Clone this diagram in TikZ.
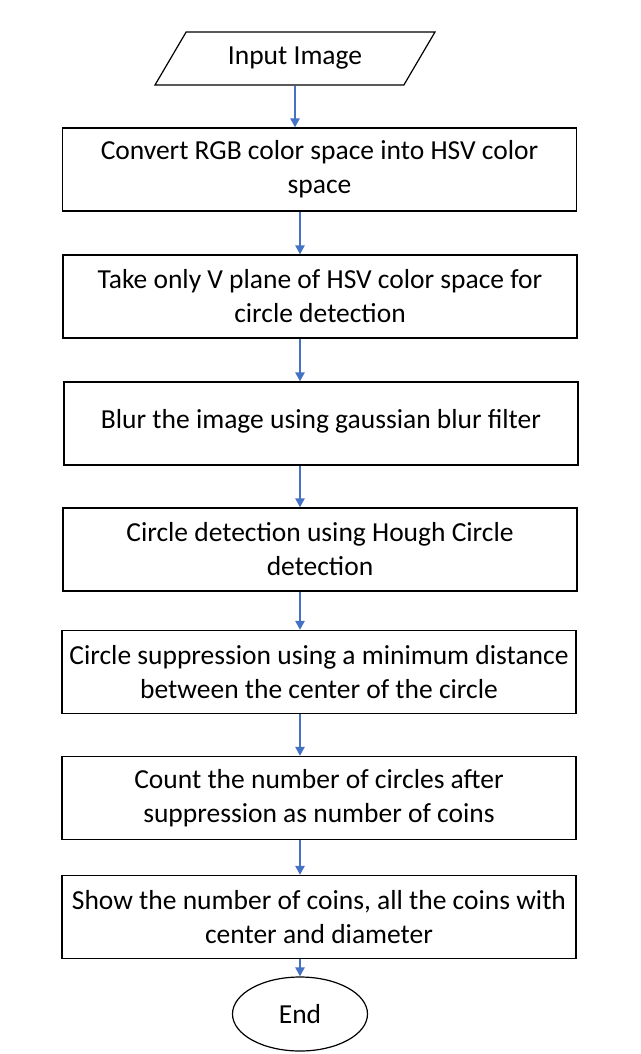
\documentclass[tikz,border=0pt]{standalone}
\usepackage{fontspec}
\setmainfont{Carlito}
\usetikzlibrary{shapes.geometric,arrows.meta}

\definecolor{flowblue}{RGB}{68,114,196}

\tikzset{
    process/.style={draw, line width=1.2pt, minimum width=514pt, minimum height=83pt,
        align=center, font=\fontsize{27.5}{34}\selectfont},
    iobox/.style={trapezium, trapezium left angle=43, trapezium right angle=137,
        trapezium stretches body, draw, line width=1.2pt, minimum width=280pt,
        minimum height=53pt, font=\fontsize{27.5}{34}\selectfont},
    terminal/.style={ellipse, draw, line width=1.2pt, minimum width=135pt,
        minimum height=74pt, font=\fontsize{27.5}{34}\selectfont},
    flow/.style={flowblue, line width=2.2pt, -{Triangle[length=9pt,width=9pt]}}
}

\begin{document}
\begin{tikzpicture}[x=1pt, y=-1pt]
            \useasboundingbox (0,0) rectangle (640,1054);

            % Draw flowchart blocks
            \node[iobox] (in) at (295,58.5) {Input Image};
            \node[process] (rgb) at (319.5,169.5) {Convert RGB color space into HSV color\\space};
            \node[process] (vplane) at (320,296.5) {Take only V plane of HSV color space for\\circle detection};
            \node[process] (blur) at (321,423.5) {\raisebox{9pt}{Blur the image using gaussian blur filter}};
            \node[process] (hough) at (320,549.5) {Circle detection using Hough Circle\\detection};
            \node[process] (supp) at (319,672) {Circle suppression using a minimum distance\\between the center of the circle};
            \node[process] (count) at (319,798) {Count the number of circles after\\suppression as number of coins};
            \node[process] (show) at (319,917) {Show the number of coins, all the coins with\\center and diameter};
            \node[terminal] (end) at (300,1014) {End};

            % Add arrows
            \coordinate (axis) at (300,0);
            \draw[flow] (in.south) -- (in.south |- rgb.north);
            \draw[flow] (rgb.south -| axis) -- (vplane.north -| axis);
            \draw[flow] (vplane.south -| axis) -- (blur.north -| axis);
            \draw[flow] (blur.south -| axis) -- (hough.north -| axis);
            \draw[flow] (hough.south -| axis) -- (supp.north -| axis);
            \draw[flow] (supp.south -| axis) -- (count.north -| axis);
            \draw[flow] (count.south -| axis) -- (show.north -| axis);
            \draw[flow] (show.south -| axis) -- (end.north);
        \end{tikzpicture}
\end{document}
